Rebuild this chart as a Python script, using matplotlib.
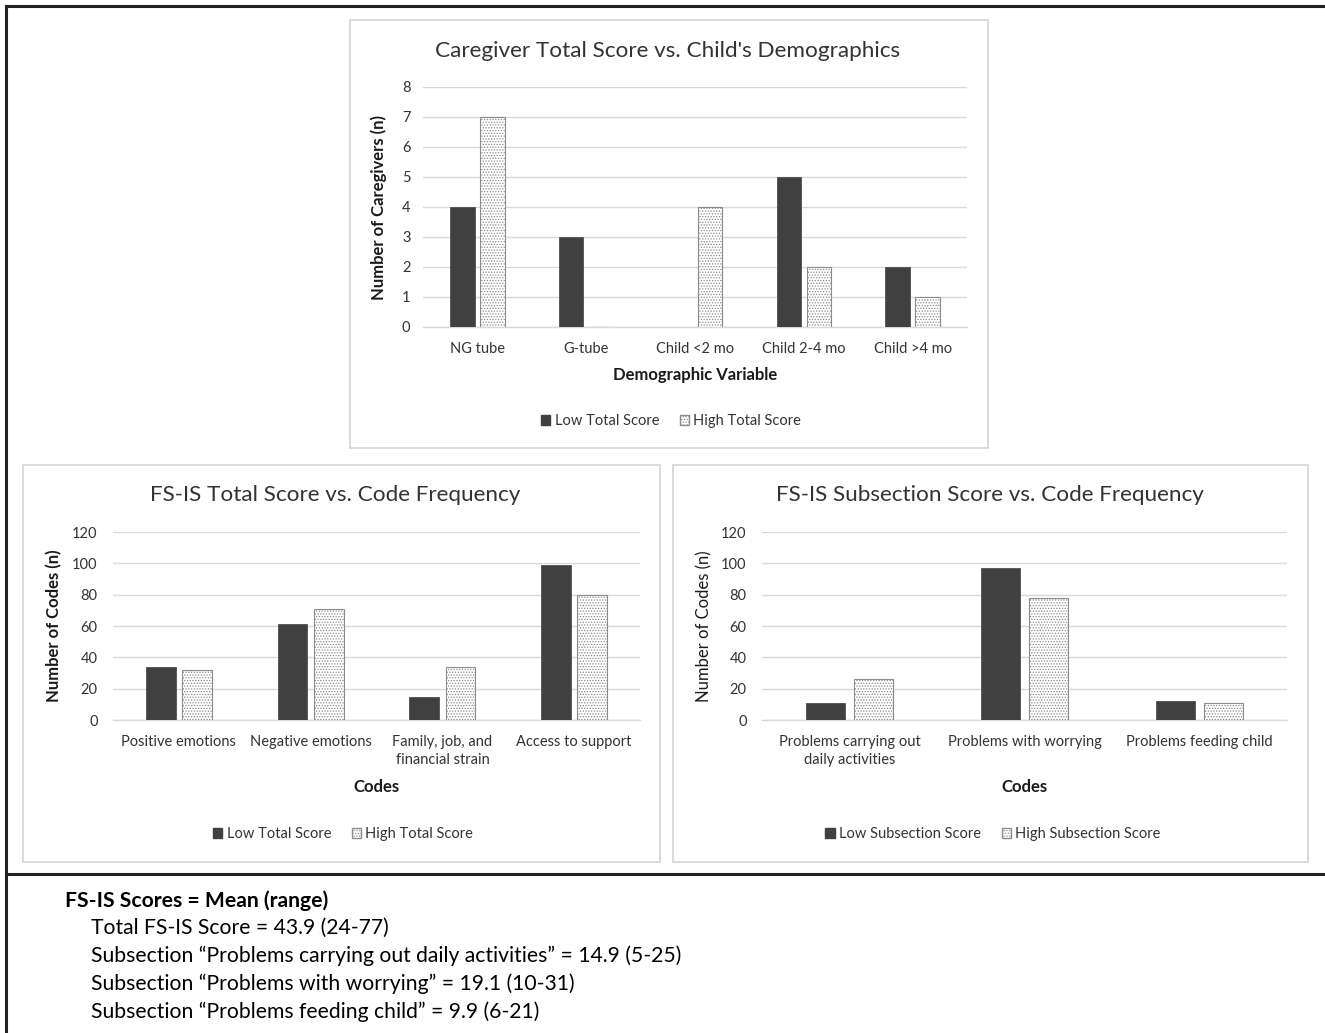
import matplotlib
matplotlib.use("Agg")
import matplotlib.pyplot as plt
from matplotlib.patches import Rectangle, Patch
from matplotlib.lines import Line2D
import numpy as np

plt.rcParams['font.family'] = ['Lato', 'DejaVu Sans']
plt.rcParams['hatch.linewidth'] = 0.6

# ---- data ----
demo_categories = ["NG tube", "G-tube", "Child <2 mo", "Child 2-4 mo", "Child >4 mo"]
demo_low = [4, 3, 0, 5, 2]
demo_high = [7, 0, 4, 2, 1]
demo_ticks = [0, 1, 2, 3, 4, 5, 6, 7, 8]

total_categories = ["Positive emotions", "Negative emotions", "Family, job, and\nfinancial strain", "Access to support"]
total_low = [34, 61, 15, 99]
total_high = [32, 71, 34, 80]

sub_categories = ["Problems carrying out\ndaily activities", "Problems with worrying", "Problems feeding child"]
sub_low = [11, 97, 12]
sub_high = [26, 78, 11]
code_ticks = [0, 20, 40, 60, 80, 100, 120]

summary_header = "FS-IS Scores = Mean (range)"
summary_lines = [
    "Total FS-IS Score = 43.9 (24-77)",
    "Subsection \u201cProblems carrying out daily activities\u201d = 14.9 (5-25)",
    "Subsection \u201cProblems with worrying\u201d = 19.1 (10-31)",
    "Subsection \u201cProblems feeding child\u201d = 9.9 (6-21)",
]

W, H = 1325, 1033
fig = plt.figure(figsize=(W / 100, H / 100), dpi=100)

DARK = '#404040'
HATCH_EDGE = '#8c8c8c'
GRID = '#d9d9d9'
TXT = '#333333'


def fx(px):
    return px / W


def fy(py):
    return 1 - py / H


def panel_box(x0, y0, x1, y1):
    r = Rectangle((fx(x0), fy(y1)), fx(x1) - fx(x0), fy(y0) - fy(y1),
                  transform=fig.transFigure, fill=False, edgecolor='#d4d4d4', linewidth=1.2)
    fig.add_artist(r)


def make_axes(x0, y0, x1, y1):
    return fig.add_axes([fx(x0), fy(y1), fx(x1) - fx(x0), fy(y0) - fy(y1)])


def draw_bars(ax, cats, low, high, ticks, ylab, ylab_bold, ylab_x, xlab, xlab_y, pad_y):
    x = np.arange(len(cats))
    w = 0.225
    off = 0.138
    ax.bar(x - off, low, width=w, color=DARK, edgecolor=DARK, linewidth=0.5, zorder=3)
    ax.bar(x + off, high, width=w, color='white', edgecolor=HATCH_EDGE, hatch='......',
           linewidth=0.8, zorder=3)
    ax.set_xlim(-0.5, len(cats) - 0.5)
    ax.set_ylim(ticks[0], ticks[-1])
    ax.set_yticks(ticks)
    ax.set_xticks(x)
    ax.set_xticklabels(cats, fontsize=10.5, color=TXT, linespacing=1.35)
    ax.tick_params(axis='both', length=0, labelsize=10.5, colors=TXT)
    ax.tick_params(axis='x', pad=11)
    ax.tick_params(axis='y', pad=pad_y)
    ax.grid(axis='y', color=GRID, linewidth=1.0, zorder=0)
    for s in ['top', 'right', 'left']:
        ax.spines[s].set_visible(False)
    ax.spines['bottom'].set_color(GRID)
    ax.spines['bottom'].set_linewidth(1.0)
    ax.set_ylabel(ylab, fontsize=12, fontweight='bold' if ylab_bold else 'normal', color='#1a1a1a')
    ax.yaxis.set_label_coords(ylab_x, 0.5)
    ax.set_xlabel(xlab, fontsize=12, fontweight='bold', color='#1a1a1a')
    ax.xaxis.set_label_coords(0.5, xlab_y)


def legend(ax, labels, cx, cy):
    handles = [Patch(facecolor=DARK, edgecolor=DARK),
               Patch(facecolor='white', edgecolor=HATCH_EDGE, hatch='......')]
    fig.legend(handles, labels, loc='center', bbox_to_anchor=(fx(cx), fy(cy)), ncol=2,
               frameon=False, fontsize=10.5, handlelength=0.65, handleheight=0.65,
               handletextpad=0.3, columnspacing=1.4, labelcolor=TXT)


# ---- outer frame ----
fig.add_artist(Line2D([fx(6), fx(W)], [fy(6), fy(6)], transform=fig.transFigure, color='#222222', linewidth=2.2))
fig.add_artist(Line2D([fx(6), fx(6)], [fy(6), fy(H)], transform=fig.transFigure, color='#222222', linewidth=2.2))
fig.add_artist(Line2D([fx(6), fx(W)], [fy(874), fy(874)], transform=fig.transFigure, color='#222222', linewidth=2.2))

# ---- top panel ----
panel_box(350, 20, 988, 448)
ax1 = make_axes(423, 87, 967, 327)
draw_bars(ax1, demo_categories, demo_low, demo_high, demo_ticks,
          "Number of Caregivers (n)", True, -0.066, "Demographic Variable", -0.167, 9)
fig.text(fx(668), fy(51), "Caregiver Total Score vs. Child's Demographics", ha='center', va='center',
         fontsize=16.2, color=TXT)
legend(ax1, ["Low Total Score", "High Total Score"], 671, 421)

# ---- bottom-left panel ----
panel_box(23, 465, 660, 862)
ax2 = make_axes(113, 532, 640, 720)
draw_bars(ax2, total_categories, total_low, total_high, code_ticks,
          "Number of Codes (n)", True, -0.097, "Codes", -0.314, 11)
fig.text(fx(335), fy(495), "FS-IS Total Score vs. Code Frequency", ha='center', va='center',
         fontsize=16.2, color=TXT)
legend(ax2, ["Low Total Score", "High Total Score"], 343, 834)

# ---- bottom-right panel ----
panel_box(673, 465, 1308, 862)
ax3 = make_axes(762, 532, 1287, 720)
draw_bars(ax3, sub_categories, sub_low, sub_high, code_ticks,
          "Number of Codes (n)", False, -0.095, "Codes", -0.314, 11)
fig.text(fx(990), fy(495), "FS-IS Subsection Score vs. Code Frequency", ha='center', va='center',
         fontsize=16.2, color=TXT)
legend(ax3, ["Low Subsection Score", "High Subsection Score"], 993, 834)

# ---- summary text ----
fig.text(fx(65), fy(901), summary_header, ha='left', va='center', fontsize=15.2, fontweight='bold', color='black')
for i, line in enumerate(summary_lines):
    fig.text(fx(91), fy(928 + 28 * i), line, ha='left', va='center', fontsize=15.2, color='black')

fig.savefig("out.png", dpi=100, facecolor='white')
